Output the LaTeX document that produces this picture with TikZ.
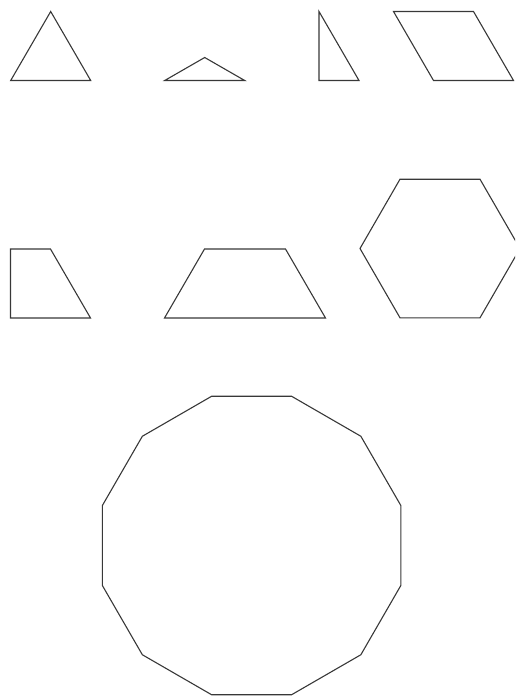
\documentclass[tikz,border=0pt]{standalone}
\begin{document}
\begin{tikzpicture}[x=1pt,y=-1pt,
  polyline/.style={draw=black!78,line width=1.1pt,line join=miter}]
\useasboundingbox (0,0) rectangle (515,696);
\clip (0,0) rectangle (515,696);
% row 1
\draw[polyline] (50.7,11.5) -- (90.7,80.5) -- (10.7,80.5) -- cycle;
\draw[polyline] (164.7,80.5) -- (204.7,57.5) -- (244.7,80.5) -- cycle;
\draw[polyline] (319,11.5) -- (319,80.5) -- (359,80.5) -- cycle;
\draw[polyline] (393.5,11.5) -- (473.5,11.5) -- (513.5,80.5) -- (433.5,80.5) -- cycle;
% row 2
\draw[polyline] (10.5,249) -- (50.5,249) -- (90.5,318) -- (10.5,318) -- cycle;
\draw[polyline] (164.5,318) -- (204.5,249) -- (285.5,249) -- (325.5,318) -- cycle;
\draw[polyline] (360,248.5) -- (400,179.2) -- (480,179.2) -- (520,248.5) -- (480,317.8) -- (400,317.8) -- cycle;
% dodecagon
\begin{scope}[shift={(251.6,545.5)}]
\draw[polyline] (15:154.5) -- (45:154.5) -- (75:154.5) -- (105:154.5) -- (135:154.5) -- (165:154.5) -- (195:154.5) -- (225:154.5) -- (255:154.5) -- (285:154.5) -- (315:154.5) -- (345:154.5) -- cycle;
\end{scope}
\end{tikzpicture}
\end{document}
